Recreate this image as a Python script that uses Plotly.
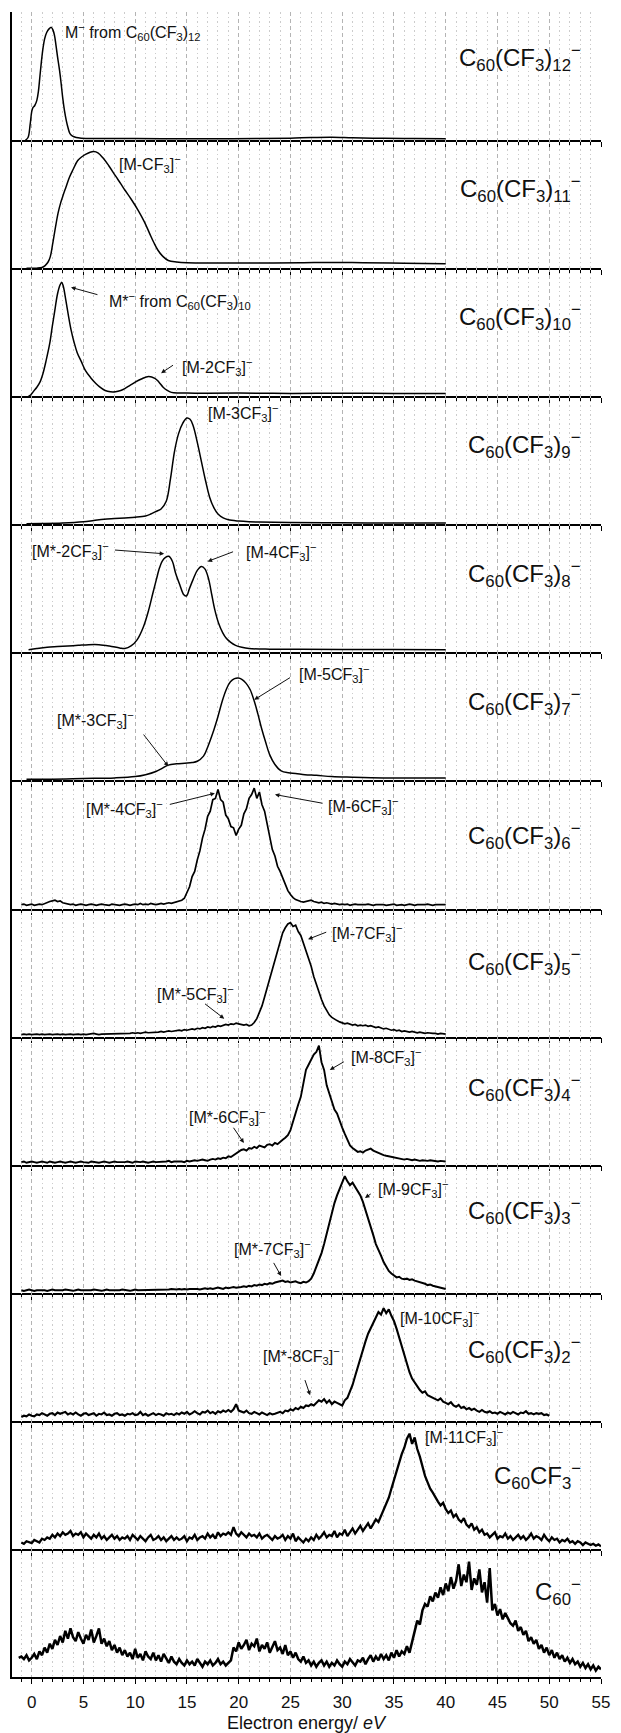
import plotly.graph_objects as go
from plotly.subplots import make_subplots

# ---------------- data (intensity in % of panel height) ----------------
E1 = [-0.6, -0.35, -0.15, 0.0, 0.1, 0.3, 0.5, 0.65, 0.8, 0.95, 1.1, 1.25, 1.45, 1.7, 1.9, 2.05, 2.2, 2.35, 2.5, 2.7,
      2.85, 3.0, 3.17, 3.35, 3.5, 3.7, 3.95, 4.3, 4.8, 6, 8, 10, 14, 18, 22, 25, 27, 29, 31, 34, 37, 40]
V1 = [0, 2, 12, 22, 25, 27, 31, 38, 50, 62, 72, 79, 84, 87, 88, 86, 82, 74, 65, 54,
      44, 33, 23, 15, 10, 5, 3, 2, 1.5, 1.2, 1.2, 1.2, 1, 1, 1.2, 1.5, 2, 2.2, 1.8, 1.4, 1.2, 1]

E2 = [-0.5, 0.5, 1.0, 1.3, 1.6, 1.8, 2.05, 2.3, 2.55, 2.8, 3.0, 3.3, 3.65, 4.0, 4.45, 4.85, 5.25, 5.65, 6.0, 6.4,
      6.9, 7.45, 8.1, 8.6, 9.0, 9.6, 10.3, 10.9, 11.4, 11.8, 12.2, 12.7, 13.2, 14.0, 15, 18, 22, 26, 29, 32, 36, 40]
V2 = [0, 0, 0.5, 2, 5, 9, 20, 32, 43, 51, 56, 63, 71, 77, 84, 87, 89, 90.5, 91, 90,
      86, 80, 72, 66, 61, 54, 45, 36, 27, 20, 14, 9, 6, 4.8, 4.2, 4, 4, 4.2, 4.5, 4.2, 3.8, 3.5]

E3 = [-0.3, -0.1, 0.2, 0.5, 0.8, 1.1, 1.4, 1.74, 2.0, 2.2, 2.5, 2.75, 2.9, 3.05, 3.3, 3.55, 3.8, 4.1, 4.4, 4.8,
      5.2, 5.7, 6.2, 6.7, 7.1, 7.6, 8.1, 8.6, 9.0, 9.5, 10.0, 10.6, 11.3, 11.9, 12.3, 12.7, 13.1, 13.5, 14.2, 15,
      17, 20, 25, 30, 35, 40]
V3 = [0, 1, 4, 7, 11, 18, 28, 41, 55, 65, 80, 87, 89, 86, 75, 63, 52, 42, 34, 27,
      20, 14.5, 10, 6.5, 4.5, 3.5, 3.5, 4.5, 6, 8.5, 11, 13.5, 15.5, 14, 11, 7, 4.5, 3, 2.5, 2.5,
      2.3, 2.5, 2.2, 2.4, 2.2, 2.2]

E4 = [-0.5, 1, 3, 5, 6, 7, 8, 9, 10, 11, 11.5, 12, 12.5, 13, 13.4, 13.8, 14.2, 14.6, 15.0, 15.3,
      15.6, 16.0, 16.4, 16.8, 17.2, 17.6, 18.0, 18.5, 19, 20, 21, 22, 25, 30, 35, 40]
V4 = [0.5, 0.6, 1, 2, 3, 4, 4.5, 5, 5.5, 6.5, 8, 10, 12, 18, 35, 57, 71, 79, 83, 82,
      77, 64, 49, 34, 21, 13, 8, 5, 3.5, 2.5, 2, 1.8, 1.5, 1.2, 1, 1]

E5 = [-0.3, 0.5, 1.5, 2.5, 3.5, 4.5, 5.5, 6.5, 7.5, 8.5, 9.0, 9.6, 10.2, 10.8, 11.3, 11.7, 12.05, 12.35, 12.6, 12.9,
      13.25, 13.6, 13.9, 14.3, 14.7, 14.95, 15.25, 15.6, 16.0, 16.4, 16.75, 17.1, 17.4, 17.7, 18.05, 18.45, 18.8, 19.2,
      19.7, 20.3, 21, 23, 26, 30, 35, 40]
V5 = [2, 3, 4, 4.5, 5, 5.5, 6, 6, 5, 3.5, 3, 5, 10, 20, 33, 46, 57, 66, 71, 74,
      75, 71, 62, 53, 45, 44, 50, 57, 64, 67, 65, 57, 45, 33, 23, 15.5, 11, 8,
      5.5, 4, 3, 2.5, 2.5, 2.3, 2.2, 2]

E6 = [-0.5, 2, 5, 8, 10, 11, 12, 12.6, 13.2, 14, 14.8, 15.5, 16.0, 16.6, 17.0, 17.5, 18.0, 18.45, 18.85, 19.2,
      19.6, 19.96, 20.3, 20.7, 21.1, 21.5, 21.85, 22.2, 22.6, 23.0, 23.5, 24.1, 24.8, 25.5, 26.4, 27.5, 29, 31, 34, 37, 40]
V6 = [1, 1, 1.5, 2, 3, 4.5, 7, 9.5, 12, 13, 13.5, 14, 15, 19, 26, 37, 50, 63, 72, 77,
      79.5, 80, 79, 76, 71, 62, 52, 41, 30, 20, 12.5, 7.5, 6, 5.5, 4.5, 4, 3, 2.5, 2, 2, 2]

STEP = 0.25
S7 = -1.0
V7 = [3, 3.5, 2.5, 3, 3.5, 2.5, 3, 3.5, 3, 4, 4.5, 5.5, 6, 6.5, 5.5, 6, 4.5, 4, 3.5, 3,
      3.5, 2.5, 3, 3.5, 3, 2.5, 3, 3.5, 3, 2.5, 3, 3.5, 3, 3, 2.5, 3.5, 3, 3, 2.5, 3,
      3.5, 3, 2.5, 3, 3.5, 3, 4, 3, 3.5, 3, 4, 3.5, 3, 3.5, 4, 3.5, 4, 4.5, 4, 4.5,
      5, 5.5, 6.5, 8, 12, 17, 25, 29, 38, 45, 55, 62, 72, 76, 85, 86, 93, 85, 83, 73,
      70, 64, 63, 57, 62, 65, 74, 78, 86, 89, 94, 86, 91, 81, 76, 65, 57, 46, 41, 33,
      29, 24, 19, 14, 11, 8.5, 7, 6, 5.5, 5, 5.5, 6, 6.5, 5.5, 5, 4.5, 5, 4, 4.5, 4,
      3.5, 4, 3.5, 3, 3.5, 3, 3.5, 2.5, 3, 3.5, 3, 3, 2.5, 3, 3.5, 3, 2.5, 3, 3, 3.5,
      3, 2.5, 3, 3, 3.5, 2.5, 3, 3, 2.5, 3, 3.5, 3, 2.5, 3, 3, 2.5, 3, 3.5, 3, 2.5,
      3, 3, 2.5, 3, 3]

S8 = -1.0
V8 = [1.5, 2, 1.5, 2, 1.5, 2, 2, 1.5, 2, 1.5, 2, 2, 1.5, 2, 2, 1.5, 2, 1.5, 2, 2,
      1.5, 2, 2, 1.5, 2, 1.5, 2, 2, 2.5, 2, 1.5, 2, 2, 2.5, 2, 2, 2.5, 2, 2.5, 2,
      2.5, 2, 2.5, 3, 2.5, 3, 2.5, 3, 3.5, 3, 3, 3.5, 3, 3.5, 4, 3.5, 4, 4.5, 4, 4.5,
      4.5, 5, 4.5, 5.5, 5, 5.5, 6, 5.5, 6.5, 6, 7, 6.5, 7.5, 7, 8, 7.5, 8.5, 8, 9, 9.5,
      9, 10, 9.5, 10.5, 10, 9.5, 9, 9.5, 8.5, 9, 11, 14, 19, 24, 31, 38, 45, 53, 61, 68,
      75, 81, 85, 88, 89, 86, 87, 82, 79, 73, 68, 61, 55, 47, 41, 34, 29, 24, 20, 17,
      15, 13.5, 12.5, 11.5, 11, 10, 10.5, 9.5, 9, 9.5, 8.5, 9, 8.5, 9, 8, 8.5, 7.5, 7, 7.5, 6.5,
      6, 6.5, 5.5, 5, 5.5, 4.5, 5, 4, 4.5, 4, 3.5, 4, 3.5, 3, 3.5, 3, 2.5, 3, 2.5, 2.5,
      2.5, 2, 2.5, 2, 2]

S9 = -1.0
V9 = [2, 2.5, 1.5, 2, 2.5, 2, 1.5, 2, 2.5, 2, 1.5, 2.5, 2, 1.5, 2, 2.5, 2, 1.5, 2, 2.5,
      2, 1.5, 2, 2.5, 2, 2, 1.5, 2.5, 2, 2, 1.5, 2, 2.5, 2, 1.5, 2, 2.5, 2, 2, 1.5,
      2, 2.5, 2, 1.5, 2.5, 2, 2, 2.5, 2, 1.5, 2, 2.5, 2, 2, 2.5, 2, 2.5, 3, 2, 2.5,
      2.5, 3, 2.5, 2, 3, 2.5, 3, 3.5, 3, 3.5, 4, 3.5, 3, 4, 4.5, 4, 5, 4.5, 5.5, 5,
      6.5, 6, 7.5, 8.5, 10, 11.5, 12, 11, 13, 12.5, 14, 13, 15, 14, 13.5, 15.5, 16, 15, 17, 16,
      18, 19.5, 21, 23, 27, 34, 42, 47, 53, 64, 74, 78, 82, 86, 88, 93, 80, 74, 62, 55,
      48, 43, 40, 34, 29, 24, 19, 15, 13, 11.5, 10, 10.5, 9.5, 11, 12, 12.5, 11, 10, 9, 8,
      7.5, 7, 6.5, 6, 5.5, 5, 5, 4.5, 4, 4.5, 4, 3.5, 4, 3.5, 3, 3.5, 3, 3, 3.5, 3,
      3, 2.5, 3, 2.5, 2.5]

S10 = -1.0
V10 = [2, 1.5, 2, 2.5, 2, 1.5, 2, 2, 2.5, 2, 1.5, 2, 2.5, 2, 2, 1.5, 2, 2.5, 2, 2,
       1.5, 2, 2.5, 2, 2, 1.5, 2, 2, 2.5, 2, 2, 1.5, 2, 2.5, 2, 2, 2, 1.5, 2, 2.5,
       2, 2, 1.5, 2, 2.5, 2, 2, 2.5, 2, 2, 2.5, 2, 2.5, 2, 2, 2.5, 2, 2.5, 3, 2.5,
       2.5, 3, 2.5, 3, 2.5, 3, 3, 3.5, 3, 2.5, 3, 3.5, 3, 3.5, 3, 3.5, 4, 3.5, 3, 4,
       3.5, 4, 4.5, 4, 4, 4.5, 5, 4.5, 5.5, 5, 6, 5.5, 6.5, 6, 7, 6.5, 7.5, 7, 8, 8.5,
       9, 9.5, 8.5, 9, 8, 8.5, 9, 8, 7.5, 8.5, 8, 9, 11, 15, 20, 26, 31, 38, 46, 55,
       62, 70, 76, 81, 87, 91, 87, 84, 86, 83, 80, 76, 71, 64, 58, 52, 45, 38, 34, 29,
       24, 20, 17, 15, 13.5, 12, 12.5, 11, 10.5, 11, 10, 10.5, 9.5, 9, 8, 7.5, 7, 6, 6.5, 5.5,
       5, 4.5, 4, 3.5, 3]

S11 = -1.0
V11 = [3, 4, 3.5, 5, 4, 3.5, 5, 4.5, 6, 5, 4, 5.5, 6, 4.5, 6.5, 5.5, 6, 7, 5, 6,
       5, 6.5, 5, 4, 5.5, 6, 4.5, 5, 6, 4, 5.5, 5, 6.5, 4.5, 5, 4, 5.5, 6, 4.5, 5,
       4, 5.5, 5, 6, 4.5, 5, 7, 4.5, 5.5, 4, 5, 6, 4.5, 5.5, 5, 4, 6, 5, 5.5, 4.5,
       6, 5, 6.5, 5.5, 7, 5, 6, 7.5, 6, 5, 7, 6.5, 8, 6, 7, 5.5, 7.5, 6.5, 8, 7,
       8.5, 7, 9, 13, 8, 7, 6.5, 8, 6, 5.5, 7, 6, 5, 6.5, 5.5, 4.5, 6, 5, 5.5, 6.5,
       7, 6, 8, 7.5, 9, 8, 10, 9, 11, 10, 12, 11.5, 13, 12, 14, 16, 15, 17, 14, 16,
       13, 15, 14, 13, 12, 16, 18, 23, 28, 35, 42, 50, 57, 62, 68, 72, 77, 81, 85, 83,
       88, 84, 87, 82, 78, 72, 65, 58, 50, 45, 38, 33, 30, 26, 24, 22, 23, 20, 19, 18,
       17, 16, 17.5, 15, 14, 13, 14.5, 12, 11, 12.5, 10, 11, 9, 10, 8.5, 9.5, 8, 7, 8.5, 7,
       6.5, 7.5, 6, 6.5, 5.5, 7, 6, 5, 6.5, 5.5, 7, 6, 5, 6.5, 6, 7.5, 5.5, 6, 5, 6,
       5.5, 6, 4.5, 5, 4]

S12 = -1.0
V12 = [5, 4, 6, 5, 4.5, 7, 6, 5, 8, 7, 9, 8, 11, 9, 12, 10, 13, 11, 12, 14,
       10, 12, 11, 13, 9, 12, 10, 8, 11, 9, 12, 8, 10, 7, 9, 11, 8, 10, 7, 9,
       8, 10, 7, 11, 9, 7, 10, 8, 6, 9, 11, 7, 8, 10, 7, 9, 6, 8, 10, 7,
       9, 7, 8, 10, 6, 9, 8, 11, 7, 9, 10, 8, 12, 9, 11, 8, 13, 10, 12, 11,
       13, 11, 17, 12, 10, 13, 11, 9, 12, 10, 11, 9, 12, 8, 10, 11, 9, 7, 10, 8,
       9, 11, 7, 10, 8, 12, 6, 9, 7, 5, 8, 6, 9, 7, 11, 8, 10, 13, 9, 11,
       10, 14, 9, 12, 11, 15, 10, 13, 16, 12, 15, 18, 14, 17, 20, 16, 19, 23, 21, 26,
       30, 35, 40, 47, 54, 60, 68, 74, 79, 86, 90, 82, 87, 78, 72, 64, 57, 52, 47, 44,
       40, 37, 34, 36, 31, 28, 30, 25, 27, 23, 21, 24, 19, 17, 20, 15, 17, 13, 15, 11,
       12, 9, 11, 13, 8, 10, 9, 12, 8, 10, 7, 9, 11, 8, 10, 7, 9, 12, 8, 10,
       9, 7, 11, 8, 6, 9, 7, 8, 5, 7, 6, 8, 5, 6, 4, 6, 5, 3, 5, 4,
       3, 4, 2.5, 3.5, 2]

S13 = -1.25
V13 = [15,
       16, 14, 17, 13, 15, 18, 14, 20, 17, 23, 19, 26, 22, 29, 25, 32, 27, 36, 30, 38,
       31, 28, 35, 30, 26, 33, 29, 37, 27, 32, 38, 26, 30, 24, 28, 21, 25, 19, 23, 17,
       21, 16, 19, 14, 22, 15, 18, 13, 20, 16, 14, 19, 13, 17, 12, 18, 14, 11, 16, 12,
       10, 14, 11, 9, 13, 10, 12, 9, 14, 11, 8, 12, 10, 13, 9, 11, 14, 10, 12, 9,
       11, 13, 23, 20, 27, 22, 25, 29, 21, 26, 24, 30, 20, 25, 22, 27, 19, 24, 28, 21,
       23, 18, 25, 17, 20, 15, 19, 14, 12, 16, 11, 13, 9, 12, 8, 11, 13, 9, 12, 8,
       11, 9, 13, 10, 8, 12, 10, 14, 11, 9, 13, 12, 15, 10, 14, 17, 12, 16, 13, 18,
       14, 17, 13, 19, 15, 21, 16, 20, 18, 24, 19, 27, 35, 44, 41, 52, 57, 55, 63, 59,
       66, 62, 70, 64, 73, 67, 78, 69, 75, 88, 71, 80, 74, 90, 68, 77, 72, 84, 66, 74,
       58, 85, 52, 57, 48, 53, 45, 50, 46, 42, 40, 44, 36, 39, 33, 36, 28, 31, 26, 29,
       22, 25, 19, 23, 17, 21, 15, 19, 14, 17, 12, 15, 11, 14, 10, 12, 8, 11, 7, 10,
       6, 9, 5, 8, 6]

PANEL_LABELS = [
    "C<sub>60</sub>(CF<sub>3</sub>)<sub>12</sub><sup>−</sup>",
    "C<sub>60</sub>(CF<sub>3</sub>)<sub>11</sub><sup>−</sup>",
    "C<sub>60</sub>(CF<sub>3</sub>)<sub>10</sub><sup>−</sup>",
    "C<sub>60</sub>(CF<sub>3</sub>)<sub>9</sub><sup>−</sup>",
    "C<sub>60</sub>(CF<sub>3</sub>)<sub>8</sub><sup>−</sup>",
    "C<sub>60</sub>(CF<sub>3</sub>)<sub>7</sub><sup>−</sup>",
    "C<sub>60</sub>(CF<sub>3</sub>)<sub>6</sub><sup>−</sup>",
    "C<sub>60</sub>(CF<sub>3</sub>)<sub>5</sub><sup>−</sup>",
    "C<sub>60</sub>(CF<sub>3</sub>)<sub>4</sub><sup>−</sup>",
    "C<sub>60</sub>(CF<sub>3</sub>)<sub>3</sub><sup>−</sup>",
    "C<sub>60</sub>(CF<sub>3</sub>)<sub>2</sub><sup>−</sup>",
    "C<sub>60</sub>CF<sub>3</sub><sup>−</sup>",
    "C<sub>60</sub><sup>−</sup>",
]
LABEL_Y = [64, 62, 62, 62, 61, 61, 57, 58, 60, 64, 55, 57, 66]

# peak annotations: (panel, text, text_x, text_y, arrow_tail, arrow_head)
PEAK_NOTES = [
    (1, "M<sup>−</sup> from C<sub>60</sub>(CF<sub>3</sub>)<sub>12</sub>", 3.0, 84, None, None),
    (2, "[M-CF<sub>3</sub>]<sup>−</sup>", 8.2, 81, None, None),
    (3, "M*<sup>−</sup> from C<sub>60</sub>(CF<sub>3</sub>)<sub>10</sub>", 7.3, 74, (6.5, 79), (3.8, 85)),
    (3, "[M-2CF<sub>3</sub>]<sup>−</sup>", 14.3, 23, (13.8, 25), (12.5, 18)),
    (4, "[M-3CF<sub>3</sub>]<sup>−</sup>", 16.8, 87, None, None),
    (5, "[M*-2CF<sub>3</sub>]<sup>−</sup>", -0.2, 79, (7.9, 80), (12.8, 77)),
    (5, "[M-4CF<sub>3</sub>]<sup>−</sup>", 20.5, 78, (19.6, 79), (17.0, 71)),
    (6, "[M-5CF<sub>3</sub>]<sup>−</sup>", 25.6, 83, (25.1, 81), (21.5, 63)),
    (6, "[M*-3CF<sub>3</sub>]<sup>−</sup>", 2.25, 47, (10.7, 37), (13.2, 11)),
    (7, "[M*-4CF<sub>3</sub>]<sup>−</sup>", 5.1, 78, (13.2, 81), (17.7, 90)),
    (7, "[M-6CF<sub>3</sub>]<sup>−</sup>", 28.4, 80, (28.25, 82), (23.5, 89)),
    (8, "[M-7CF<sub>3</sub>]<sup>−</sup>", 28.8, 81, (28.6, 82), (26.7, 76)),
    (8, "[M*-5CF<sub>3</sub>]<sup>−</sup>", 11.9, 33, (16.6, 26.5), (18.6, 14)),
    (9, "[M-8CF<sub>3</sub>]<sup>−</sup>", 30.7, 84, (30.3, 81), (28.8, 74)),
    (9, "[M*-6CF<sub>3</sub>]<sup>−</sup>", 15.0, 37, (19.4, 30), (20.5, 17)),
    (10, "[M-9CF<sub>3</sub>]<sup>−</sup>", 33.3, 81, (32.9, 78), (32.2, 74)),
    (10, "[M*-7CF<sub>3</sub>]<sup>−</sup>", 19.4, 34, (23.3, 24.5), (24.1, 13)),
    (11, "[M-10CF<sub>3</sub>]<sup>−</sup>", 35.4, 80, None, None),
    (11, "[M*-8CF<sub>3</sub>]<sup>−</sup>", 22.2, 51, (26.35, 33), (26.9, 20)),
    (12, "[M-11CF<sub>3</sub>]<sup>−</sup>", 37.85, 87, None, None),
]

X_RANGE = [-1.9, 55]
X_TITLE = "Electron energy/ <i>eV</i>"

# ---------------- figure ----------------
FONT = "Liberation Sans, Arial, Helvetica, sans-serif"
N = 13
LINE_W = [1.5, 1.5, 1.5, 1.5, 1.5, 1.5, 1.7, 1.7, 1.9, 2.0, 2.1, 2.3, 2.5]

def grid(start, vals):
    return [start + STEP * i for i in range(len(vals))]

series = [
    (E1, V1, "spline"), (E2, V2, "spline"), (E3, V3, "spline"), (E4, V4, "spline"),
    (E5, V5, "spline"), (E6, V6, "spline"),
    (grid(S7, V7), V7, "linear"), (grid(S8, V8), V8, "linear"), (grid(S9, V9), V9, "linear"),
    (grid(S10, V10), V10, "linear"), (grid(S11, V11), V11, "linear"),
    (grid(S12, V12), V12, "linear"), (grid(S13, V13), V13, "linear"),
]

fig = make_subplots(rows=N, cols=1, shared_xaxes=True, vertical_spacing=0)
for i, (xs, ys, shp) in enumerate(series):
    fig.add_trace(go.Scatter(x=xs, y=ys, mode="lines",
                             line=dict(color="black", width=LINE_W[i], shape=shp),
                             showlegend=False, hoverinfo="skip"),
                  row=i + 1, col=1)

fig.update_xaxes(range=X_RANGE, tick0=0, dtick=5, ticks="outside", ticklen=5, tickwidth=1,
                 tickcolor="black", showline=True, linecolor="black", linewidth=1.5,
                 showgrid=True, gridcolor="#b4b4b4", gridwidth=1, griddash="4px,3px",
                 zeroline=False, tickfont=dict(size=17, color="#111", family=FONT),
                 ticklabelstandoff=4,
                 minor=dict(dtick=1, tick0=0, ticks="outside", ticklen=3, tickwidth=1,
                            tickcolor="black", showgrid=True, gridcolor="#cccccc",
                            gridwidth=1, griddash="1.5px,3px"))
fig.update_yaxes(range=[0, 100], showline=True, linecolor="black", linewidth=1.5,
                 showgrid=False, zeroline=False, showticklabels=False, ticks="")

ann = []
for i, lab in enumerate(PANEL_LABELS):
    k = i + 1
    ann.append(dict(x=53.3, y=LABEL_Y[i], xref=f"x{k}", yref=f"y{k}", text=lab,
                    showarrow=False, xanchor="right", yanchor="middle",
                    font=dict(size=24, color="#111", family=FONT)))
for (p, txt, tx, ty, tail, head) in PEAK_NOTES:
    ann.append(dict(x=tx, y=ty, xref=f"x{p}", yref=f"y{p}", text=txt, showarrow=False,
                    xanchor="left", yanchor="middle",
                    font=dict(size=16, color="#111", family=FONT)))
    if tail is not None:
        ann.append(dict(x=head[0], y=head[1], ax=tail[0], ay=tail[1],
                        xref=f"x{p}", yref=f"y{p}", axref=f"x{p}", ayref=f"y{p}",
                        text="", showarrow=True, arrowhead=2, arrowsize=0.9,
                        arrowwidth=1, arrowcolor="#111", standoff=0, startstandoff=0))
ann.append(dict(x=0.5, y=-0.0275, xref="paper", yref="paper", text=X_TITLE,
                showarrow=False, xanchor="center", yanchor="middle",
                font=dict(size=18, color="#111", family=FONT)))

fig.update_layout(width=621, height=1733, margin=dict(l=12, r=11, t=12, b=56),
                  paper_bgcolor="white", plot_bgcolor="rgba(0,0,0,0)",
                  annotations=ann, showlegend=False,
                  font=dict(family=FONT, color="#111"))

fig.write_html("out.html")
